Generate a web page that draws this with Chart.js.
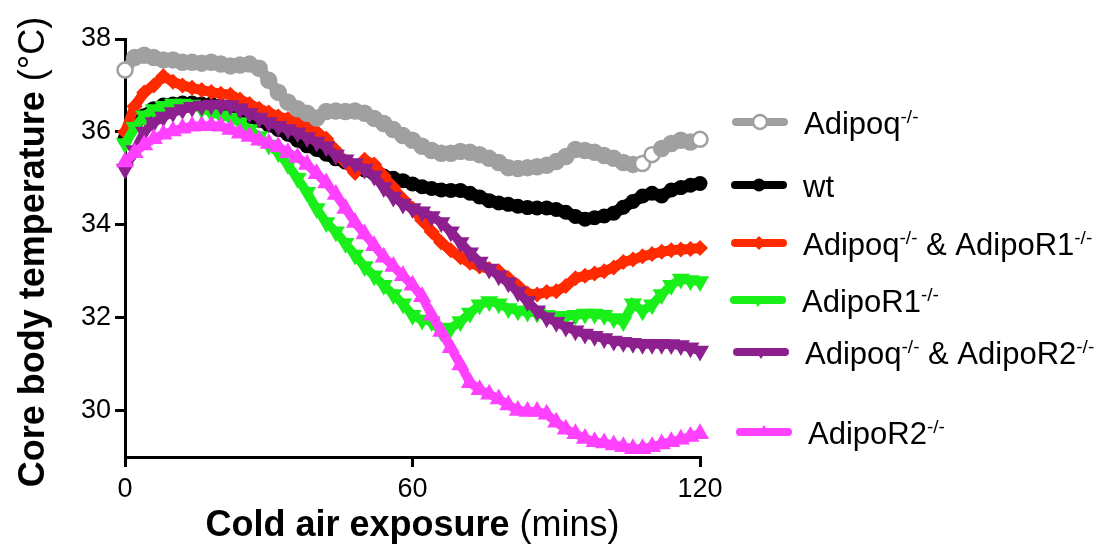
<!DOCTYPE html>
<html>
<head>
<meta charset="utf-8">
<script src="https://cdn.jsdelivr.net/npm/chart.js@4.4.1/dist/chart.umd.min.js"></script>
<style>
    html, body { margin: 0; padding: 0; background: #ffffff; }
    #wrap { position: relative; width: 1117px; height: 545px; }
</style>
</head>
<body>
<div id="wrap"><canvas id="tempChart"></canvas></div>
<script>
// --- DATA (one value every 2 min) ---
const minutes = [0, 2, 4, 6, 8, 10, 12, 14, 16, 18, 20, 22, 24, 26, 28, 30, 32, 34, 36, 38,
    40, 42, 44, 46, 48, 50, 52, 54, 56, 58, 60, 62, 64, 66, 68, 70, 72, 74, 76, 78,
    80, 82, 84, 86, 88, 90, 92, 94, 96, 98, 100, 102, 104, 106, 108, 110, 112, 114, 116, 118, 120];

const adipoqKO = [37.33, 37.6, 37.65, 37.6, 37.55, 37.55, 37.5, 37.5, 37.48, 37.5, 37.46, 37.42, 37.44, 37.46, 37.37, 37.11, 36.85, 36.64, 36.5, 36.4,
    36.3, 36.44, 36.45, 36.44, 36.45, 36.4, 36.29, 36.18, 36.05, 35.92, 35.82, 35.69, 35.6, 35.54, 35.54, 35.58, 35.56, 35.51, 35.43, 35.34,
    35.23, 35.21, 35.23, 35.25, 35.28, 35.36, 35.47, 35.62, 35.6, 35.56, 35.49, 35.43, 35.34, 35.3, 35.32, 35.51, 35.64, 35.75, 35.82, 35.78, 35.84];

const wildType = [35.85, 36.15, 36.35, 36.5, 36.58, 36.6, 36.62, 36.62, 36.6, 36.6, 36.55, 36.5, 36.42, 36.33, 36.25, 36.15, 36.05, 35.95, 35.82, 35.7,
    35.62, 35.52, 35.42, 35.35, 35.25, 35.18, 35.1, 35.05, 35.0, 34.95, 34.88, 34.82, 34.78, 34.75, 34.74, 34.74, 34.68, 34.6, 34.52, 34.47,
    34.44, 34.4, 34.37, 34.36, 34.36, 34.33, 34.27, 34.18, 34.12, 34.15, 34.19, 34.25, 34.38, 34.5, 34.62, 34.68, 34.62, 34.75, 34.8, 34.85, 34.89];

const adipoqR1KO = [36.0, 36.55, 36.85, 37.0, 37.2, 37.08, 37.0, 36.95, 36.9, 36.86, 36.82, 36.8, 36.7, 36.6, 36.5, 36.42, 36.33, 36.28, 36.2, 36.12,
    36.0, 35.85, 35.6, 35.35, 35.12, 35.4, 35.3, 35.05, 34.8, 34.55, 34.35, 34.1, 33.85, 33.62, 33.45, 33.3, 33.18, 33.1, 33.05, 33.0,
    32.85, 32.68, 32.52, 32.5, 32.55, 32.57, 32.68, 32.85, 32.9, 32.95, 33.0, 33.08, 33.2, 33.25, 33.32, 33.37, 33.42, 33.45, 33.47, 33.48, 33.5];

const r1KO = [35.75, 36.1, 36.35, 36.48, 36.55, 36.6, 36.6, 36.58, 36.5, 36.42, 36.35, 36.3, 36.2, 36.05, 35.9, 35.72, 35.55, 35.3, 35.0, 34.7,
    34.35, 34.05, 33.85, 33.6, 33.35, 33.1, 32.9, 32.7, 32.5, 32.3, 32.05, 31.95, 31.92, 31.7, 31.78, 31.92, 32.1, 32.28, 32.35, 32.3,
    32.2, 32.15, 32.12, 32.1, 32.05, 32.03, 32.03, 32.05, 32.08, 32.08, 32.05, 31.98, 31.92, 32.3, 32.15, 32.28, 32.5, 32.7, 32.83, 32.8, 32.78];

const adipoqR2KO = [35.2, 35.6, 36.0, 36.2, 36.32, 36.42, 36.48, 36.53, 36.56, 36.58, 36.58, 36.57, 36.5, 36.4, 36.3, 36.2, 36.12, 36.05, 35.98, 35.88,
    35.78, 35.68, 35.5, 35.4, 35.32, 35.2, 35.05, 34.8, 34.6, 34.45, 34.35, 34.28, 34.18, 34.05, 33.85, 33.62, 33.4, 33.2, 33.05, 32.9,
    32.75, 32.55, 32.35, 32.15, 32.0, 31.9, 31.8, 31.72, 31.65, 31.6, 31.55, 31.5, 31.47, 31.45, 31.43, 31.43, 31.43, 31.42, 31.4, 31.35, 31.28];

const r2KO = [35.35, 35.55, 35.72, 35.85, 35.95, 36.02, 36.08, 36.12, 36.13, 36.13, 36.12, 36.05, 35.97, 35.9, 35.82, 35.75, 35.68, 35.55, 35.45, 35.3,
    35.1, 34.9, 34.65, 34.35, 34.05, 33.8, 33.55, 33.3, 33.1, 32.9, 32.7, 32.45, 32.05, 31.7, 31.35, 30.98, 30.6, 30.45, 30.35, 30.25,
    30.12, 30.0, 29.98, 29.98, 29.92, 29.75, 29.6, 29.5, 29.4, 29.33, 29.3, 29.26, 29.22, 29.18, 29.18, 29.22, 29.28, 29.33, 29.38, 29.44, 29.5];

const yTicks = [30, 32, 34, 36, 38];
const xTicks = [0, 60, 120];

const FONT = '"Liberation Sans", Arial, Helvetica, sans-serif';
const GRAY = '#a0a0a0';
const RED = '#ff2a00';
const GREEN = '#19f019';
const PURPLE = '#8e1f8e';
const MAGENTA = '#ff40ff';

// legend labels, split so the "-/-" bits can be drawn as superscripts
const legendItems = [
    { parts: [['Adipoq'], ['-/-', 'sup']], color: GRAY, marker: 'ring' },
    { parts: [['wt']], color: '#000000', marker: 'circle' },
    { parts: [['Adipoq'], ['-/-', 'sup'], [' & AdipoR1'], ['-/-', 'sup']], color: RED, marker: 'diamond' },
    { parts: [['AdipoR1'], ['-/-', 'sup']], color: GREEN, marker: 'triDown' },
    { parts: [['Adipoq'], ['-/-', 'sup'], [' & AdipoR2'], ['-/-', 'sup']], color: PURPLE, marker: 'triDown' },
    { parts: [['AdipoR2'], ['-/-', 'sup']], color: MAGENTA, marker: 'triUp' }
];

function series(values) {
    return minutes.map((t, i) => ({ x: t, y: values[i] }));
}

// --- small drawing helpers for legend and titles ---
function drawMarker(ctx, style, x, y, r, color) {
    ctx.beginPath();
    if (style === 'circle' || style === 'ring') {
        ctx.arc(x, y, r, 0, Math.PI * 2);
    } else if (style === 'diamond') {
        ctx.moveTo(x, y - r); ctx.lineTo(x + r, y); ctx.lineTo(x, y + r); ctx.lineTo(x - r, y);
        ctx.closePath();
    } else if (style === 'triDown') {
        ctx.moveTo(x - r * 0.9, y - r * 0.35); ctx.lineTo(x + r * 0.9, y - r * 0.35); ctx.lineTo(x, y + r);
        ctx.closePath();
    } else if (style === 'triUp') {
        ctx.moveTo(x - r * 0.9, y + r * 0.35); ctx.lineTo(x + r * 0.9, y + r * 0.35); ctx.lineTo(x, y - r);
        ctx.closePath();
    }
    if (style === 'ring') {
        ctx.fillStyle = '#ffffff';
        ctx.fill();
        ctx.lineWidth = 2.5;
        ctx.strokeStyle = color;
        ctx.stroke();
    } else {
        ctx.fillStyle = color;
        ctx.fill();
    }
}

function drawParts(ctx, parts, x, baseline, size) {
    let cx = x;
    parts.forEach(([text, kind]) => {
        if (kind === 'sup') {
            ctx.font = `${Math.round(size * 0.62)}px ${FONT}`;
            ctx.fillText(text, cx, baseline - size * 0.36);
        } else {
            ctx.font = `${kind === 'bold' ? 'bold ' : ''}${size}px ${FONT}`;
            ctx.fillText(text, cx, baseline);
        }
        cx += ctx.measureText(text).width;
    });
    return cx - x;
}

function partsWidth(ctx, parts, size) {
    let w = 0;
    parts.forEach(([text, kind]) => {
        ctx.font = `${kind === 'bold' ? 'bold ' : ''}${size}px ${FONT}`;
        w += ctx.measureText(text).width;
    });
    return w;
}

const titlesAndLegend = {
    id: 'titlesAndLegend',
    afterDraw(chart) {
        const ctx = chart.ctx;
        const area = chart.chartArea;
        ctx.save();
        ctx.fillStyle = '#000000';
        ctx.textAlign = 'left';
        ctx.textBaseline = 'alphabetic';

        // x axis title
        const xTitle = [['Cold air exposure', 'bold'], [' (mins)']];
        const xw = partsWidth(ctx, xTitle, 36);
        drawParts(ctx, xTitle, (area.left + area.right) / 2 - xw / 2, 536, 36);

        // y axis title
        const yTitle = [['Core body temperature', 'bold'], [' (°C)']];
        const yw = partsWidth(ctx, yTitle, 36);
        ctx.save();
        ctx.translate(44, (area.top + area.bottom) / 2 + 4);
        ctx.rotate(-Math.PI / 2);
        drawParts(ctx, yTitle, -yw / 2, 0, 36);
        ctx.restore();

        // legend
        const rows = [122, 185, 243, 300, 352, 432];
        const starts = [736, 735, 735, 734, 737, 740];
        legendItems.forEach((item, i) => {
            const y = rows[i];
            const x0 = starts[i];
            ctx.beginPath();
            ctx.moveTo(x0, y);
            ctx.lineTo(x0 + 48, y);
            ctx.lineWidth = 8;
            ctx.lineCap = 'round';
            ctx.strokeStyle = item.color;
            ctx.stroke();
            drawMarker(ctx, item.marker, x0 + 24, y, item.marker === 'circle' ? 6.5 : 7, item.color);
            ctx.fillStyle = '#000000';
            drawParts(ctx, item.parts, x0 + 68, y + 12, 31);
        });
        ctx.restore();
    }
};

const tickFont = { family: FONT, size: 27 };

function axisStyle() {
    return {
        grid: { display: true, drawOnChartArea: false, drawTicks: true, tickLength: 10, tickWidth: 3, tickColor: '#000000', color: '#000000', lineWidth: 3 },
        border: { display: true, color: '#000000', width: 3 }
    };
}

const ctx = document.getElementById('tempChart').getContext('2d');
const tempChart = new Chart(ctx, {
    type: 'line',
    data: {
        datasets: [
            {
                label: 'Adipoq-/-', data: series(adipoqKO), order: 0,
                borderColor: GRAY, borderWidth: 11,
                pointStyle: 'circle', pointRadius: 7.5, pointBorderWidth: 2.5, pointBorderColor: GRAY,
                pointBackgroundColor: (c) => [0, 54, 55, minutes.length - 1].includes(c.dataIndex) ? '#ffffff' : GRAY
            },
            {
                label: 'AdipoR2-/-', data: series(r2KO), order: 1,
                borderColor: MAGENTA, borderWidth: 9,
                pointStyle: 'triangle', pointRadius: 10.5, pointBorderWidth: 0, pointBackgroundColor: MAGENTA
            },
            {
                label: 'Adipoq-/- & AdipoR2-/-', data: series(adipoqR2KO), order: 2,
                borderColor: PURPLE, borderWidth: 9,
                pointStyle: 'triangle', pointRotation: 180, pointRadius: 10.5, pointBorderWidth: 0, pointBackgroundColor: PURPLE
            },
            {
                label: 'AdipoR1-/-', data: series(r1KO), order: 3,
                borderColor: GREEN, borderWidth: 9,
                pointStyle: 'triangle', pointRotation: 180, pointRadius: 10.5, pointBorderWidth: 0, pointBackgroundColor: GREEN
            },
            {
                label: 'Adipoq-/- & AdipoR1-/-', data: series(adipoqR1KO), order: 4,
                borderColor: RED, borderWidth: 10,
                pointStyle: 'rectRot', pointRadius: 8, pointBorderWidth: 0, pointBackgroundColor: RED
            },
            {
                label: 'wt', data: series(wildType), order: 5,
                borderColor: '#000000', borderWidth: 12,
                pointStyle: 'circle', pointRadius: 7.5, pointBorderWidth: 0, pointBackgroundColor: '#000000'
            }
        ].map(d => Object.assign({ clip: false, tension: 0, pointHoverRadius: d.pointRadius }, d))
    },
    options: {
        responsive: true,
        maintainAspectRatio: false,
        animation: false,
        events: [],
        layout: { autoPadding: false, padding: { left: 0, top: 39, right: 417, bottom: 0 } },
        plugins: { legend: { display: false }, tooltip: { enabled: false } },
        scales: {
            x: {
                type: 'linear', min: 0, max: 120,
                afterBuildTicks: (scale) => { scale.ticks = xTicks.map(v => ({ value: v })); },
                afterFit: (scale) => { scale.height = 88; },
                ticks: { color: '#000000', font: tickFont, padding: 6, maxRotation: 0 },
                ...axisStyle()
            },
            y: {
                type: 'linear', min: 29, max: 38,
                afterBuildTicks: (scale) => { scale.ticks = yTicks.map(v => ({ value: v })); },
                afterFit: (scale) => { scale.width = 125; },
                ticks: { color: '#000000', font: tickFont, padding: 4 },
                ...axisStyle()
            }
        }
    },
    plugins: [titlesAndLegend]
});
</script>
</body>
</html>
